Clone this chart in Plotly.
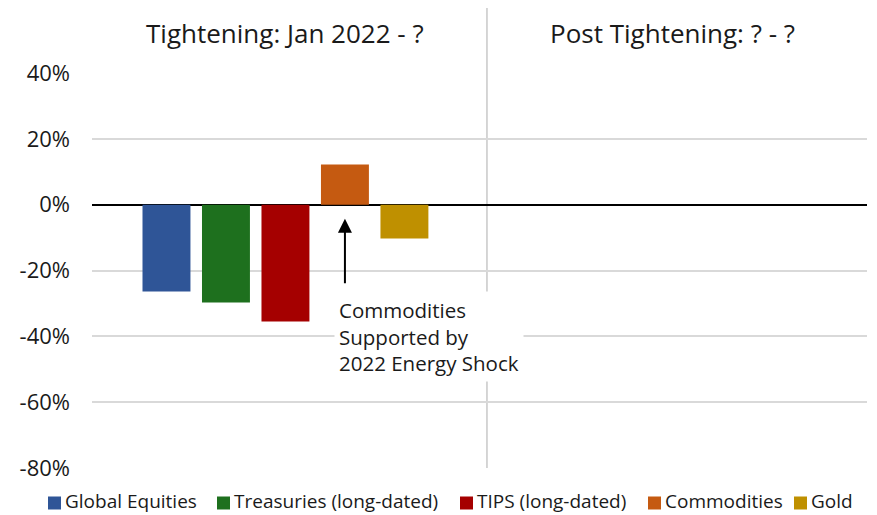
import plotly.graph_objects as go

periods = ["Tightening: Jan 2022 - ?", "Post Tightening: ? - ?"]
assets = ["Global Equities", "Treasuries (long-dated)", "TIPS (long-dated)", "Commodities", "Gold"]
returns = [-0.264, -0.297, -0.355, 0.122, -0.103]
colors = ["#2F5597", "#1E701E", "#A50000", "#C55A11", "#BF9000"]
y_ticks = [0.4, 0.2, 0.0, -0.2, -0.4, -0.6, -0.8]
y_labels = [f"{round(v * 100)}%" for v in y_ticks]
note = "Commodities<br>Supported by<br>2022 Energy Shock"

TXT = "Open Sans, Lato, sans-serif"

fig = go.Figure()
for a, v, c in zip(assets, returns, colors):
    fig.add_trace(go.Bar(x=[periods[0]], y=[v], name=a, marker_color=c, marker_line_width=0,
                         showlegend=False))

slot = 0.1476  # group slot per bar in category units
fig.update_layout(
    width=869, height=507,
    margin=dict(l=84, r=10, t=65, b=47, autoexpand=False),
    plot_bgcolor="white", paper_bgcolor="white",
    barmode="group", bargap=0.262, bargroupgap=0.194,
    font=dict(family=TXT, color="#1a1a1a"),
    showlegend=False,
    xaxis=dict(type="category", categoryorder="array", categoryarray=periods,
               range=[-0.48, 1.443], showticklabels=False, showgrid=False,
               zeroline=False, showline=False, ticks=""),
    yaxis=dict(range=[-0.8, 0.4], tickvals=y_ticks, ticktext=y_labels,
               showgrid=True, gridcolor="#d9d9d9", gridwidth=1.5,
               zeroline=True, zerolinecolor="#000000", zerolinewidth=1.5,
               tickfont=dict(family=TXT, size=22, color="#1a1a1a"),
               ticklabelstandoff=21, showline=False, ticks=""),
)

# divider between periods
fig.add_shape(type="line", xref="x", yref="paper", x0=0.5, x1=0.5, y0=0, y1=1.165,
              line=dict(color="#c8c8c8", width=1.5), layer="below")

# period titles
fig.add_annotation(x=0, xref="x", y=1.101, yref="paper", yanchor="middle", text=periods[0],
                   showarrow=False, font=dict(family=TXT, size=26, color="#1a1a1a"))
fig.add_annotation(x=0.96, xref="x", y=1.101, yref="paper", yanchor="middle", text=periods[1],
                   showarrow=False, font=dict(family=TXT, size=26, color="#1a1a1a"))

# arrow pointing at the commodities bar
fig.add_annotation(x=slot, xref="x", y=-0.043, yref="y", text="", showarrow=True,
                   ax=0, ay=66, arrowhead=2, arrowsize=1.4, arrowwidth=2, arrowcolor="#000000")
# note box
fig.add_annotation(x=0.12, xref="x", y=-0.262, yref="y", text=note, showarrow=False,
                   xanchor="left", yanchor="top", align="left", bgcolor="white", borderpad=4,
                   font=dict(family=TXT, size=20.5, color="#1a1a1a"))

# legend row (swatch + label), positions in pixels of the plot area
PLOT_W, PLOT_H = 775, 395
swatch_px = [-44, 125, 368, 556, 702]   # left edge of each swatch, relative to plot left
sw = 13
y_mid_px = 33                            # legend text centre below the plot bottom
for name, col, px in zip(assets, colors, swatch_px):
    fig.add_shape(type="rect", xref="paper", yref="paper",
                  x0=px / PLOT_W, x1=(px + sw) / PLOT_W,
                  y0=-(y_mid_px + 2 + sw / 2) / PLOT_H, y1=-(y_mid_px + 2 - sw / 2) / PLOT_H,
                  fillcolor=col, line=dict(width=0))
    fig.add_annotation(x=(px + sw + 3) / PLOT_W, xref="paper", xanchor="left",
                       y=-y_mid_px / PLOT_H, yref="paper", yanchor="middle",
                       text=name, showarrow=False, borderpad=0,
                       font=dict(family=TXT, size=19, color="#1a1a1a"))

fig.write_html("out.html")
